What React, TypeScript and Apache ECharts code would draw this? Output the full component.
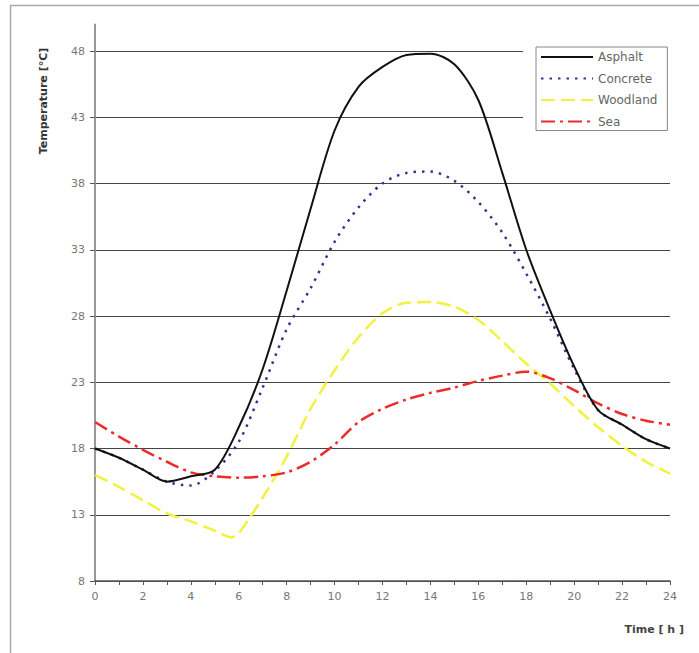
import React, { useEffect, useRef } from "react";
import * as echarts from "echarts";

const HOURS = [0, 1, 2, 3, 4, 5, 6, 7, 8, 9, 10, 11, 12, 13, 14, 15, 16, 17, 18, 19, 20, 21, 22, 23, 24];
const ASPHALT = [18.0, 17.3, 16.4, 15.5, 15.9, 16.4, 19.6, 24.0, 29.9, 36.1, 42.0, 45.3, 46.8, 47.7, 47.8, 47.0, 44.3, 38.8, 33.0, 28.4, 24.2, 20.9, 19.8, 18.7, 18.0];
const CONCRETE = [18.0, 17.3, 16.4, 15.5, 15.2, 16.3, 18.5, 22.6, 27.0, 30.1, 33.6, 36.2, 38.0, 38.8, 38.9, 38.2, 36.6, 34.3, 31.2, 27.8, 24.0, 20.9, 19.8, 18.7, 18.0];
const WOODLAND_HOURS = [0, 1, 2, 3, 4, 5, 5.7, 6, 7, 8, 9, 10, 11, 12, 13, 14, 15, 16, 17, 18, 19, 20, 21, 22, 23, 24];
const WOODLAND = [16.0, 15.1, 14.1, 13.1, 12.5, 11.8, 11.3, 11.6, 14.3, 17.4, 21.0, 23.9, 26.4, 28.2, 29.0, 29.05, 28.7, 27.7, 26.1, 24.4, 22.9, 21.2, 19.6, 18.2, 17.0, 16.1];
const SEA = [20.0, 18.9, 17.9, 17.0, 16.2, 15.9, 15.8, 15.9, 16.2, 17.0, 18.3, 20.0, 21.0, 21.7, 22.2, 22.6, 23.1, 23.5, 23.8, 23.3, 22.4, 21.4, 20.6, 20.1, 19.8];
const Y_TICKS = [8, 13, 18, 23, 28, 33, 38, 43, 48];
const SERIES_NAMES = ["Asphalt", "Concrete", "Woodland", "Sea"];

const pairs = (xs: number[], ys: number[]) => xs.map((x, i) => [x, ys[i]]);

export default function App() {
  const ref = useRef<HTMLDivElement>(null);
  useEffect(() => {
    if (!ref.current) return;
    const chart = echarts.init(ref.current, null, { renderer: "svg" });
    const font = "DejaVu Sans";
    chart.setOption({
      animation: false,
      backgroundColor: "#ffffff",
      textStyle: { fontFamily: font },
      grid: { left: 95, right: 29, top: 24.5, bottom: 72, containLabel: false },
      xAxis: {
        type: "value",
        min: 0,
        max: 24,
        interval: 2,
        axisLine: { lineStyle: { color: "#555", width: 1.5 } },
        axisTick: { show: true, length: 4, lineStyle: { color: "#555" } },
        minorTick: { show: true, splitNumber: 2, length: 4, lineStyle: { color: "#555" } },
        axisLabel: { color: "#777", fontSize: 11, margin: 10, fontFamily: font },
        splitLine: { show: false },
      },
      yAxis: {
        type: "value",
        min: 8,
        max: 50,
        axisLine: { show: true, lineStyle: { color: "#999", width: 2 } },
        axisTick: { show: true, length: 5, customValues: Y_TICKS, lineStyle: { color: "#555" } },
        axisLabel: { color: "#777", fontSize: 11, margin: 10, customValues: Y_TICKS, fontFamily: font },
        splitLine: { show: true, lineStyle: { color: "#444", width: 1 } },
      },
      legend: {
        data: SERIES_NAMES,
        orient: "vertical",
        left: 536,
        top: 47,
        padding: [4, 10, 3, 4],
        itemWidth: 52,
        itemHeight: 14,
        itemGap: 9.5,
        backgroundColor: "#ffffff",
        borderColor: "#888",
        borderWidth: 1,
        borderRadius: 0,
        z: 6,
        itemStyle: { color: "rgba(0,0,0,0)", borderColor: "rgba(0,0,0,0)", borderWidth: 0, opacity: 0 },
        textStyle: { color: "#666", fontSize: 12, fontFamily: font },
      },
      graphic: [
        {
          type: "rect",
          z: 3,
          silent: true,
          shape: { x: 523, y: 40, width: 155, height: 106 },
          style: { fill: "#ffffff" },
        },
        {
          type: "rect",
          z: 1,
          silent: true,
          shape: { x: 10.5, y: 5.5, width: 720, height: 700 },
          style: { fill: "none", stroke: "#aaa", lineWidth: 1.5 },
        },
        {
          type: "text",
          z: 5,
          x: 43,
          y: 101,
          rotation: Math.PI / 2,
          style: {
            text: "Temperature [°C]",
            fill: "#333",
            font: `bold 11px "${font}"`,
            textAlign: "center",
            textVerticalAlign: "middle",
          },
        },
        {
          type: "text",
          z: 5,
          x: 684,
          y: 629,
          style: {
            text: "Time [ h ]",
            fill: "#444",
            font: `bold 11px "${font}"`,
            textAlign: "right",
            textVerticalAlign: "middle",
          },
        },
      ],
      series: [
        {
          name: "Asphalt",
          type: "line",
          data: pairs(HOURS, ASPHALT),
          smooth: 0.3,
          symbol: "none",
          showSymbol: false,
          z: 5,
          lineStyle: { color: "#111", width: 2, type: "solid" },
          itemStyle: { color: "#111" },
        },
        {
          name: "Concrete",
          type: "line",
          data: pairs(HOURS, CONCRETE),
          smooth: 0.3,
          symbol: "none",
          showSymbol: false,
          z: 4,
          lineStyle: { color: "#34348c", width: 2.5, type: [2.5, 6] },
          itemStyle: { color: "#34348c" },
        },
        {
          name: "Woodland",
          type: "line",
          data: pairs(WOODLAND_HOURS, WOODLAND),
          smooth: 0.3,
          symbol: "none",
          showSymbol: false,
          z: 3,
          lineStyle: { color: "#f2f23c", width: 2.5, type: [14, 6] },
          itemStyle: { color: "#f2f23c" },
        },
        {
          name: "Sea",
          type: "line",
          data: pairs(HOURS, SEA),
          smooth: 0.3,
          symbol: "none",
          showSymbol: false,
          z: 3,
          lineStyle: { color: "#ec2b2b", width: 2.5, type: [14, 5, 3, 5] },
          itemStyle: { color: "#ec2b2b" },
        },
      ],
    });
    return () => chart.dispose();
  }, []);
  return (
    <div
      ref={ref}
      style={{ position: "absolute", left: 0, top: 0, width: 699, height: 653, background: "#fff" }}
    />
  );
}
